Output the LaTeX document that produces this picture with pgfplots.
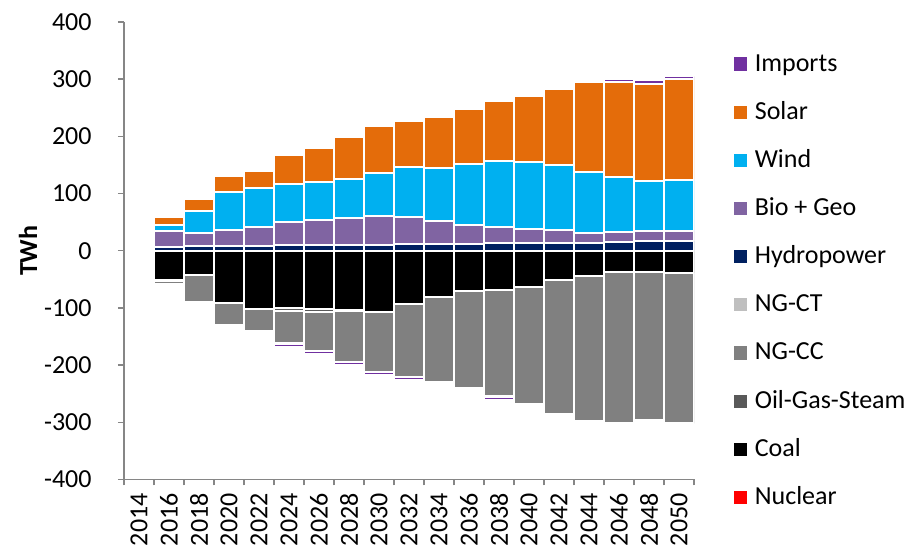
\documentclass[border=0pt]{standalone}
\usepackage{fontspec}
\setmainfont{Carlito}
\usepackage{pgfplots}
\usepackage{pgfplotstable}
\pgfplotsset{compat=1.18}
\definecolor{cImp}{HTML}{7030A0}
\definecolor{cSol}{HTML}{E46C0A}
\definecolor{cWind}{HTML}{00B0F0}
\definecolor{cBio}{HTML}{8064A2}
\definecolor{cHyd}{HTML}{002060}
\definecolor{cNGCT}{HTML}{BFBFBF}
\definecolor{cNGCC}{HTML}{808080}
\definecolor{cOGS}{HTML}{595959}
\definecolor{cCoal}{HTML}{000000}
\definecolor{cNuc}{HTML}{FF0000}
\definecolor{axgray}{HTML}{868686}

\pgfplotstableread{
x coal ogs ngcc ngct impn hydro bio wind solar impp
1  -50.7  -2.5  -5.0   0    0    5.8 28.3 10.5  15.1  0
2  -42.3   0   -47.5   0    0    7.6 23.3 39.3  20.2  0
3  -90.6   0   -39.4   0    0    8.5 28.5 65.0  29.0  0
4  -101.1  0   -39.4   0    0    9.0 32.7 67.6  30.0  0
5  -100.3 -4.5 -57.1  -0.5 -6.5 10.8 39.9 65.9  51.3  0
6  -101.4 -5.0 -68.5  -0.5 -5.9 10.2 43.1 67.7  59.0  0
7  -104.3 -1.5 -88.3  -0.5 -5.9 10.8 46.3 67.6  74.1  0
8  -106.6  0  -104.9  -0.5 -6.0 10.8 50.7 73.7  82.3  0
9  -93.5   0  -127.1  -0.5 -5.0 11.4 47.2 87.1  80.3  0
10 -80.4   0  -148.4  -0.5 -4.5 11.7 41.1 91.5  90.0  0
11 -69.9   0  -170.8  -0.5 -4.8 11.7 32.9 107.8 94.8  0
12 -67.9   0  -186.8  -0.5 -5.3 12.8 29.5 113.9 105.6 0
13 -63.5   0  -204.0   0    0   12.8 24.8 117.7 115.7 0
14 -51.3   0  -233.7   0    0   14.3 21.3 115.1 132.6 0
15 -44.3   0  -252.9   0    0   14.3 17.2 105.8 157.0 0
16 -37.9   0  -262.8   0    0   14.9 17.7 95.9  167.0 5.3
17 -36.4   0  -260.2   0    0   16.9 18.1 87.1  170.2 5.6
18 -38.5   0  -263.4   0    0   16.9 18.1 88.8  175.8 5.5
}\data

\pgfplotsset{
  base/.style={
    at={(0,0)}, anchor=south west,
    scale only axis, width=285pt, height=228.75pt,
    xmin=-0.5, xmax=18.5, ymin=-400, ymax=400,
    ybar stacked, bar width=15pt,
    every axis plot/.append style={draw=white, line width=1pt},
    font=\fontsize{13}{15.6}\selectfont,
  }
}

\begin{document}
\begin{tikzpicture}
\useasboundingbox (-62pt,-35.25pt) rectangle (393.5pt,239.75pt);
\begin{axis}[base,
  axis x line*=bottom, axis y line*=left,
  axis line style={draw=axgray, line width=0.75pt},
  tick style={draw=axgray, line width=0.75pt},
  tick align=outside,
  major tick length=3pt, minor tick length=3pt,
  ytick={-400,-300,-200,-100,0,100,200,300,400},
  xtick={0,1,2,3,4,5,6,7,8,9,10,11,12,13,14,15,16,17,18},
  xticklabels={2014,2016,2018,2020,2022,2024,2026,2028,2030,2032,2034,2036,2038,2040,2042,2044,2046,2048,2050},
  major x tick style={draw=none},
  minor xtick={-0.5,0.5,...,18.5},
  /pgf/number format/assume math mode=true,
  xticklabel style={rotate=90, anchor=east, inner sep=0pt},
  xticklabel shift=3.75pt,
  yticklabel style={anchor=east, inner sep=0pt},
  yticklabel shift=13pt,
  ylabel={\bfseries TWh},
  ylabel style={at={(axis description cs:-0.1684,0.5)}, anchor=center, rotate=0},
  legend style={at={(1.0702,0.9366)}, anchor=north west, draw=none, fill=none,
    inner sep=0pt, outer sep=0pt, row sep=11.08pt,
    nodes={inner sep=0pt, text height=10pt, text depth=3pt},
    /tikz/every odd column/.append style={column sep=3.8pt}},
  legend cell align=left,
]
\addplot[fill=cCoal, forget plot] table[x=x,y=coal]{\data};
\addplot[fill=cOGS, forget plot] table[x=x,y=ogs]{\data};
\addplot[fill=cNGCC, forget plot] table[x=x,y=ngcc]{\data};
\addplot[fill=cNGCT, forget plot] table[x=x,y=ngct]{\data};
\addplot[fill=cImp, forget plot] table[x=x,y=impn]{\data};

\addlegendimage{legend image code/.code={\fill[cImp] (0pt,-2.8pt) rectangle (5.6pt,2.8pt);}}
\addlegendentry{Imports}
\addlegendimage{legend image code/.code={\fill[cSol] (0pt,-2.8pt) rectangle (5.6pt,2.8pt);}}
\addlegendentry{Solar}
\addlegendimage{legend image code/.code={\fill[cWind] (0pt,-2.8pt) rectangle (5.6pt,2.8pt);}}
\addlegendentry{Wind}
\addlegendimage{legend image code/.code={\fill[cBio] (0pt,-2.8pt) rectangle (5.6pt,2.8pt);}}
\addlegendentry{Bio + Geo}
\addlegendimage{legend image code/.code={\fill[cHyd] (0pt,-2.8pt) rectangle (5.6pt,2.8pt);}}
\addlegendentry{Hydropower}
\addlegendimage{legend image code/.code={\fill[cNGCT] (0pt,-2.8pt) rectangle (5.6pt,2.8pt);}}
\addlegendentry{NG-CT}
\addlegendimage{legend image code/.code={\fill[cNGCC] (0pt,-2.8pt) rectangle (5.6pt,2.8pt);}}
\addlegendentry{NG-CC}
\addlegendimage{legend image code/.code={\fill[cOGS] (0pt,-2.8pt) rectangle (5.6pt,2.8pt);}}
\addlegendentry{Oil-Gas-Steam}
\addlegendimage{legend image code/.code={\fill[cCoal] (0pt,-2.8pt) rectangle (5.6pt,2.8pt);}}
\addlegendentry{Coal}
\addlegendimage{legend image code/.code={\fill[cNuc] (0pt,-2.8pt) rectangle (5.6pt,2.8pt);}}
\addlegendentry{Nuclear}
\end{axis}
\begin{axis}[base, hide axis]
\addplot[fill=cHyd] table[x=x,y=hydro]{\data};
\addplot[fill=cBio] table[x=x,y=bio]{\data};
\addplot[fill=cWind] table[x=x,y=wind]{\data};
\addplot[fill=cSol] table[x=x,y=solar]{\data};
\addplot[fill=cImp] table[x=x,y=impp]{\data};
\end{axis}
\end{tikzpicture}
\end{document}
